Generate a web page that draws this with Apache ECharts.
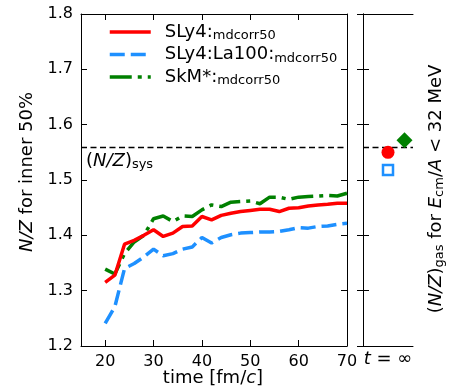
<!DOCTYPE html>
<html>
<head>
<meta charset="utf-8">
<script src="https://cdn.jsdelivr.net/npm/echarts@6/dist/echarts.min.js"></script>
<style>
  html, body { margin: 0; padding: 0; background: #fff; }
  #chart { width: 450px; height: 388px; }
</style>
</head>
<body>
<div id="chart"></div>
<script>
// Time steps (fm/c)
const time = [20, 22, 24, 26, 28, 30, 32, 34, 36, 38, 40, 42, 44, 46, 48, 50, 52, 54, 56, 58, 60, 62, 64, 66, 68, 70];

// N/Z of the inner 50% for each parameter set
const sly4 = [1.315, 1.328, 1.384, 1.391, 1.400, 1.410, 1.398, 1.404, 1.416, 1.417, 1.434, 1.428, 1.436,
              1.440, 1.443, 1.445, 1.447, 1.447, 1.443, 1.449, 1.450, 1.453, 1.455, 1.456, 1.458, 1.458];
const sly4La100 = [1.241, 1.271, 1.340, 1.349, 1.361, 1.375, 1.363, 1.367, 1.375, 1.379, 1.396, 1.386, 1.396,
                   1.401, 1.404, 1.405, 1.406, 1.406, 1.407, 1.410, 1.414, 1.413, 1.416, 1.417, 1.420, 1.422];
const skm = [1.339, 1.330, 1.367, 1.388, 1.400, 1.430, 1.435, 1.425, 1.435, 1.434, 1.446, 1.455, 1.452,
             1.460, 1.461, 1.462, 1.457, 1.469, 1.469, 1.465, 1.469, 1.470, 1.471, 1.472, 1.471, 1.476];

// Asymptotic (t = infinity) gas N/Z values and their horizontal slot in the side panel
const gasSly4 = 1.550;
const gasSly4La100 = 1.518;
const gasSkm = 1.572;
const gasSlot = [0.5, 0.5, 0.83];

// System N/Z reference line
const nzSys = 1.56;

// Axis ticks
const timeTicks = [20, 30, 40, 50, 60, 70];
const nzMin = 1.2, nzMax = 1.8, nzStep = 0.1;

const RED = '#ff0000', BLUE = '#1e90ff', GREEN = '#008000';
const FONT = 'DejaVu Sans';
const FS = 18;      // axis titles, legend, annotations
const FS_TICK = 16; // tick labels
const FS_SUB = 13;  // subscripts

const richStyles = {
  p: { fontFamily: FONT, fontSize: FS, color: '#000' },
  i: { fontFamily: FONT, fontSize: FS, fontStyle: 'italic', color: '#000' },
  s: { fontFamily: FONT, fontSize: FS_SUB, color: '#000', padding: [8, 0, 0, 0] }
};

const zip = (xs, ys) => xs.map((x, k) => [x, ys[k]]);

const chart = echarts.init(document.getElementById('chart'), null, { renderer: 'canvas' });

const yCommon = {
  type: 'value', min: nzMin, max: nzMax, interval: nzStep,
  axisLine: { show: true, lineStyle: { color: '#000', width: 1 } },
  axisTick: { show: true, inside: true, length: 6, lineStyle: { color: '#000' } },
  splitLine: { show: false }
};

const sysLine = {
  silent: true, symbol: 'none', label: { show: false },
  lineStyle: { color: '#000', type: [6, 3.5], width: 1.3 },
  data: [{ yAxis: nzSys }]
};

const option = {
  backgroundColor: '#fff',
  animation: false,
  textStyle: { fontFamily: FONT },
  grid: [
    { left: 81, right: 103, top: 14, bottom: 42 },
    { left: 363, right: 37, top: 14, bottom: 42 }
  ],
  legend: {
    orient: 'vertical', left: 103, top: 18, itemWidth: 41, itemHeight: 14, itemGap: 3,
    data: ['SLy4', 'SLy4:La100', 'SkM*'],
    itemStyle: { opacity: 0, borderWidth: 0 },
    lineStyle: { width: 3.5 },
    formatter: name => '{n|' + name + ':}{s|mdcorr50}',
    textStyle: {
      rich: {
        n: { fontFamily: FONT, fontSize: FS, color: '#000', padding: [0, 0, 0, 9] },
        s: { fontFamily: FONT, fontSize: FS_SUB, color: '#000', padding: [8, 0, 0, 0] }
      }
    }
  },
  xAxis: [
    {
      type: 'value', gridIndex: 0, min: 15, max: 70, position: 'bottom',
      axisLine: { show: true, onZero: false, lineStyle: { color: '#000' } },
      axisTick: { show: true, inside: true, length: 6, customValues: timeTicks, lineStyle: { color: '#000' } },
      axisLabel: { show: true, customValues: timeTicks, fontFamily: FONT, fontSize: FS_TICK, color: '#000', margin: 8 },
      splitLine: { show: false }
    },
    {
      type: 'value', gridIndex: 0, min: 15, max: 70, position: 'top',
      axisLine: { show: true, onZero: false, lineStyle: { color: '#000' } },
      axisTick: { show: true, inside: true, length: 6, customValues: timeTicks, lineStyle: { color: '#000' } },
      axisLabel: { show: false },
      splitLine: { show: false }
    },
    {
      type: 'value', gridIndex: 1, min: 0, max: 1, position: 'bottom',
      axisLine: { show: true, onZero: false, lineStyle: { color: '#000' } },
      axisTick: { show: false }, axisLabel: { show: false }, splitLine: { show: false }
    },
    {
      type: 'value', gridIndex: 1, min: 0, max: 1, position: 'top',
      axisLine: { show: true, onZero: false, lineStyle: { color: '#000' } },
      axisTick: { show: false }, axisLabel: { show: false }, splitLine: { show: false }
    }
  ],
  yAxis: [
    Object.assign({}, yCommon, {
      gridIndex: 0, position: 'left',
      axisLabel: { show: true, fontFamily: FONT, fontSize: FS_TICK, color: '#000', margin: 8,
                   formatter: v => v.toFixed(1) }
    }),
    Object.assign({}, yCommon, { gridIndex: 0, position: 'right', axisLabel: { show: false } }),
    Object.assign({}, yCommon, { gridIndex: 1, position: 'left', axisLabel: { show: false } }),
    Object.assign({}, yCommon, { gridIndex: 1, position: 'right', axisLabel: { show: false } })
  ],
  series: [
    {
      name: 'SLy4', type: 'line', xAxisIndex: 0, yAxisIndex: 0, data: zip(time, sly4),
      symbol: 'none', lineStyle: { color: RED, width: 3.5 }, itemStyle: { color: RED },
      markLine: sysLine, z: 4
    },
    {
      name: 'SLy4:La100', type: 'line', xAxisIndex: 0, yAxisIndex: 0, data: zip(time, sly4La100),
      symbol: 'none', lineStyle: { color: BLUE, width: 3.5, type: [15, 6] }, itemStyle: { color: BLUE }, z: 3
    },
    {
      name: 'SkM*', type: 'line', xAxisIndex: 0, yAxisIndex: 0, data: zip(time, skm),
      symbol: 'none', lineStyle: { color: GREEN, width: 3.5, type: [22, 6, 4, 6] }, itemStyle: { color: GREEN }, z: 2
    },
    {
      name: 'gasSLy4', type: 'scatter', xAxisIndex: 2, yAxisIndex: 2,
      data: [[gasSlot[0], gasSly4]], symbol: 'circle', symbolSize: 13,
      itemStyle: { color: RED, opacity: 1 }, markLine: sysLine, z: 5
    },
    {
      name: 'gasSLy4La100', type: 'scatter', xAxisIndex: 2, yAxisIndex: 2,
      data: [[gasSlot[1], gasSly4La100]], symbol: 'rect', symbolSize: 10,
      itemStyle: { color: '#fff', borderColor: BLUE, borderWidth: 2.5, opacity: 1 }, z: 5
    },
    {
      name: 'gasSkM', type: 'scatter', xAxisIndex: 2, yAxisIndex: 2,
      data: [[gasSlot[2], gasSkm]], symbol: 'diamond', symbolSize: [16, 16],
      itemStyle: { color: GREEN, opacity: 1 }, z: 5
    }
  ],
  graphic: [
    {
      type: 'text', left: 86, top: 152, z: 10,
      style: { text: '{p|(}{i|N/Z}{p|)}{s|sys}', rich: richStyles }
    },
    {
      type: 'text', x: 213, y: 378, z: 10,
      style: { text: '{p|time [fm/}{i|c}{p|]}', rich: richStyles, align: 'center', verticalAlign: 'middle' }
    },
    {
      type: 'text', x: 388, y: 359, z: 10,
      style: { text: '{i|t}{p| = ∞}', rich: richStyles, align: 'center', verticalAlign: 'middle' }
    },
    {
      type: 'text', x: 27, y: 172, rotation: Math.PI / 2, z: 10,
      style: { text: '{i|N/Z}{p| for inner 50%}', rich: richStyles, align: 'center', verticalAlign: 'middle' }
    },
    {
      type: 'text', x: 436, y: 189, rotation: Math.PI / 2, z: 10,
      style: { text: '{p|(}{i|N/Z}{p|)}{s|gas}{p| for }{i|E}{s|cm}{p|/}{i|A}{p| < 32 MeV}',
               rich: richStyles, align: 'center', verticalAlign: 'middle' }
    }
  ]
};

chart.setOption(option);
</script>
</body>
</html>
